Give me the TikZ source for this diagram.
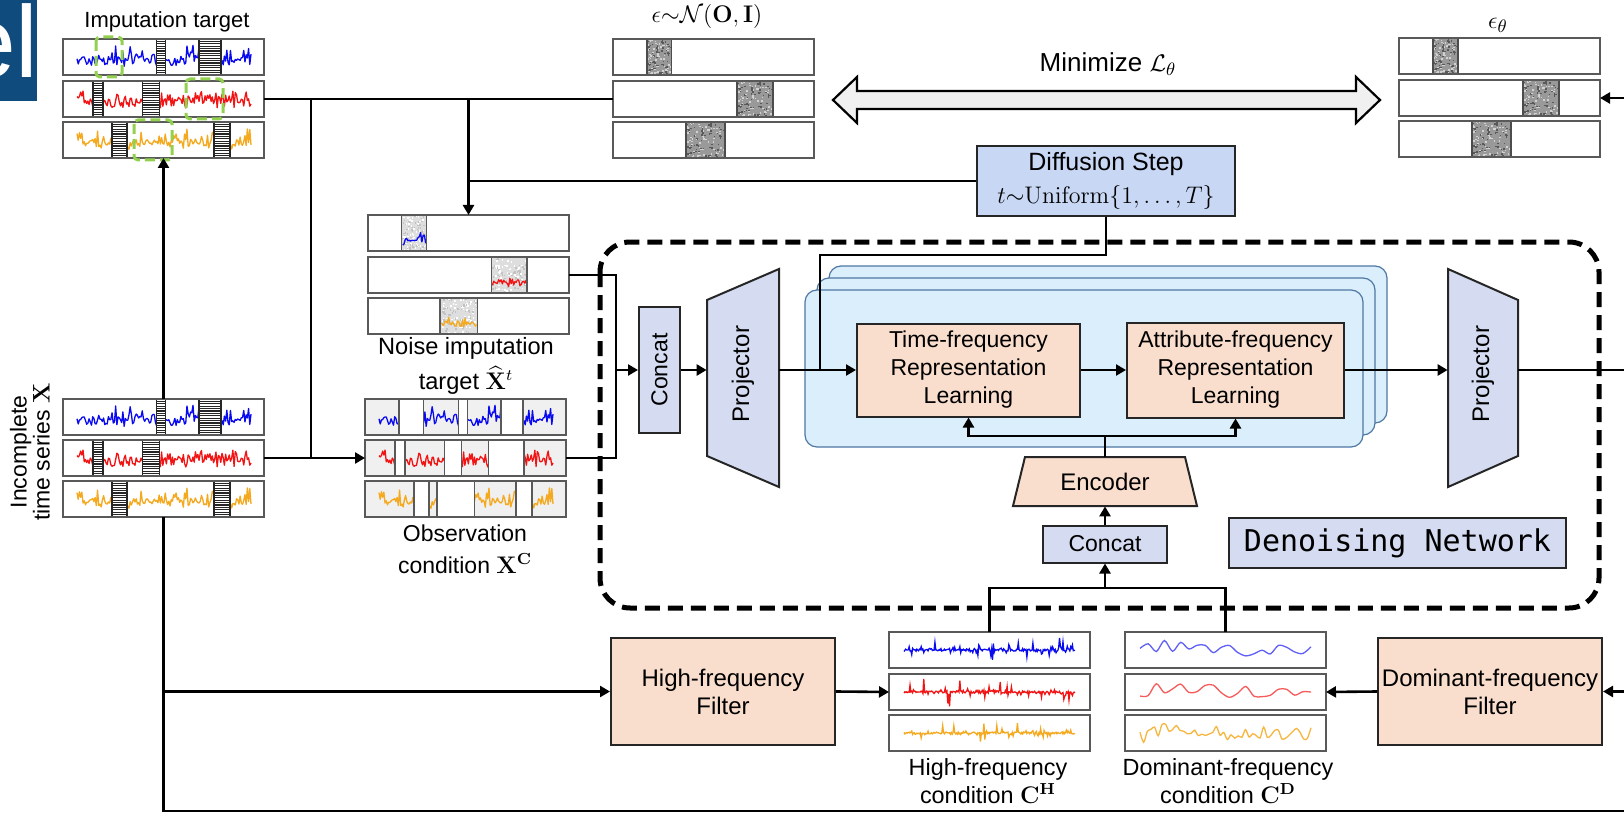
\documentclass[tikz,border=0pt]{standalone}
\usepackage{amsmath}
\usepackage{amssymb}
\usepackage{graphicx}
\usepackage[no-math]{fontspec}
\setmainfont{Liberation Sans}
\setmonofont{DejaVu Sans Mono}
\usepackage{tikz}
\usetikzlibrary{arrows.meta,calc,positioning}
\definecolor{FDNavy}{HTML}{104B7E}
\definecolor{FDLav}{HTML}{D5DCF1}
\definecolor{FDSky}{HTML}{C7D7F4}
\definecolor{FDPeach}{HTML}{F9DECD}
\definecolor{FDIce}{HTML}{DAEEFB}
\definecolor{FDIceEdge}{HTML}{4F77A3}
\definecolor{FDGreen}{HTML}{92D050}
\definecolor{FDBlue}{HTML}{0A0AF0}
\definecolor{FDRed}{HTML}{F21414}
\definecolor{FDOrange}{HTML}{F4A91E}
\definecolor{FDEdge}{HTML}{595959}
\newdimen\pxu
\pxu=0.5pt
% jagged trace from x=#1 to x=#2 standing on y=#3
\newcommand{\jagseries}[6]{%
  \pgfmathsetmacro{\jsa}{#1}\pgfmathsetmacro{\jsb}{#2}%
  \pgfmathsetmacro{\jsn}{int(max(8,((#2)-(#1))/1.2))}%
  \pgfmathsetseed{#6}%
  \draw[#5, line width=0.65pt, line join=round]
    plot[domain=\jsa:\jsb, samples=\jsn] (\x, {(#3)-(#4)*(0.2+0.35*rnd+0.45*pow(rnd,3))});
}
% speckled noise block
\newcommand{\granite}[8]{%
  \fill[#5] (#1,#2) rectangle (#3,#4);
  \pgfmathsetseed{#8}%
  \foreach \k in {1,...,60}{%
    \pgfmathsetmacro{\gx}{(#1)+((#3)-(#1)-1.6)*rnd}%
    \pgfmathsetmacro{\gy}{(#2)+((#4)-(#2)-1.6)*rnd}%
    \fill[#6] (\gx,\gy) rectangle ++(1.6,1.6);
    \pgfmathsetmacro{\gx}{(#1)+((#3)-(#1)-1.6)*rnd}%
    \pgfmathsetmacro{\gy}{(#2)+((#4)-(#2)-1.6)*rnd}%
    \fill[#7] (\gx,\gy) rectangle ++(1.6,1.6);
  }
}
% series strip with hatched missing blocks
\newcommand{\gapstrip}[6]{%
  \node[seriesbox] (#1) at (#2,#3) {};
  \jagseries{#2+14}{#2+188}{#3+33}{28}{#4}{#5}
  \foreach \ga/\gb in {#6}{%
    \fill[white] ({#2+\ga*201},#3) rectangle ({#2+\gb*201},#3+36);
    \foreach \hy in {2.4,4.8,...,34}
      \draw[black!85, line width=0.55pt] ({#2+\ga*201},#3+\hy) -- ({#2+\gb*201},#3+\hy);
    \draw[black!85, line width=0.8pt] ({#2+\ga*201},#3) rectangle ({#2+\gb*201},#3+36);
  }
  \draw[FDEdge, line width=0.8pt] (#1.north west) rectangle (#1.south east);
}
% observed pieces only, gaps left blank
\newcommand{\obsstrip}[6]{%
  \node[seriesbox, fill=black!6] (#1) at (#2,#3) {};
  \jagseries{#2+14}{#2+188}{#3+33}{28}{#4}{#5}
  \foreach \ga/\gb in {#6}
    \draw[FDEdge, line width=0.8pt, fill=white] ({#2+\ga*201},#3) rectangle ({#2+\gb*201},#3+36);
  \draw[FDEdge, line width=0.8pt] (#1.north west) rectangle (#1.south east);
}
\newcommand{\noisystrip}[7]{%
  \node[seriesbox] (#1) at (#2,#3) {};
  \granite{#2+#6*201}{#3}{#2+#7*201}{#3+36}{black!13}{black!24}{white}{#5}
  \jagseries{#2+#6*201+1}{#2+#7*201-1}{#3+34}{18}{#4}{#5}
  \draw[FDEdge, line width=0.7pt] ({#2+#6*201},#3) rectangle ({#2+#7*201},#3+36);
  \draw[FDEdge, line width=0.8pt] (#1.north west) rectangle (#1.south east);
}
\newcommand{\epsstrip}[5]{%
  \node[seriesbox] (#1) at (#2,#3) {};
  \granite{#2+#4*201}{#3}{#2+#5*201}{#3+36}{black!40}{black!65}{black!18}{7}
  \draw[black!70, line width=0.8pt] ({#2+#4*201},#3) rectangle ({#2+#5*201},#3+36);
  \draw[FDEdge, line width=0.8pt] (#1.north west) rectangle (#1.south east);
}
\newcommand{\hfstrip}[5]{%
  \node[seriesbox] (#1) at (#2,#3) {};
  \pgfmathsetmacro{\jsa}{#2+15}\pgfmathsetmacro{\jsb}{#2+186}%
  \pgfmathsetseed{#5}%
  \draw[#4, line width=0.65pt] plot[domain=\jsa:\jsb, samples=200]
    (\x, {(#3+18)+16*(2*rnd-1)*(0.06+0.94*pow(rnd,9))});
  \draw[FDEdge, line width=0.8pt] (#1.north west) rectangle (#1.south east);
}
\newcommand{\domstrip}[6]{%
  \node[seriesbox] (#1) at (#2,#3) {};
  \pgfmathsetmacro{\jsa}{#2+15}\pgfmathsetmacro{\jsb}{#2+186}%
  \pgfmathsetseed{#5}%
  \draw[#4, line width=0.65pt] plot[smooth, domain=\jsa:\jsb, samples=#6]
    (\x, {(#3+18)+(6+7*exp(-(\x-\jsa)/40))*(2*rnd-1)});
  \draw[FDEdge, line width=0.8pt] (#1.north west) rectangle (#1.south east);
}

\begin{document}
\begin{tikzpicture}[x=0.5pt, y=-0.5pt,
  conn/.style={draw=black, line width=1.3pt},
  arr/.style={conn, -{Triangle[length=5pt,width=5.5pt]}},
  seriesbox/.style={fill=white, inner sep=0pt, outer sep=0pt, anchor=north west,
    minimum width=201\pxu, minimum height=36\pxu},
  lavbox/.style={draw=black!85, line width=1pt, fill=FDLav, inner sep=0pt, align=center,
    font=\fontsize{11.5}{14}\selectfont},
  peachbox/.style={draw=black!85, line width=1pt, fill=FDPeach, inner sep=0pt, align=center,
    font=\fontsize{11.5}{14}\selectfont},
  ghost/.style={inner sep=0pt, align=center, font=\fontsize{12}{14}\selectfont},
  caption/.style={align=center, inner sep=0pt, font=\fontsize{11.5}{15}\selectfont},
  stacklayer/.style={draw=FDIceEdge, line width=0.6pt, fill=FDIce, rounded corners=6pt},
  tgtbox/.style={draw=FDGreen, line width=1.5pt, dash pattern=on 5pt off 2.5pt, rounded corners=2pt},
]
\useasboundingbox (0,0) rectangle (1624,813);
\clip (0,0) rectangle (1624,813);

% cropped title tab
\begin{scope}
  \clip (0,0) rectangle (37,101);
  \fill[FDNavy] (0,0) rectangle (37,101);
  \node[anchor=base east, text=white, inner sep=0pt, font=\fontsize{51}{51}\selectfont] (tab) at (39,78) {el};
\end{scope}

% series on the left
\node[caption, font=\fontsize{11}{13}\selectfont] (imp-cap) at (167,22) {Imputation target};
\gapstrip{imp-1}{63}{39}{FDBlue}{11}{0.465/0.51,0.678/0.787}
\gapstrip{imp-2}{63}{81}{FDRed}{23}{0.149/0.198,0.396/0.48}
\gapstrip{imp-3}{63}{122}{FDOrange}{37}{0.243/0.317,0.752/0.832}
\draw[tgtbox] (96,37) rectangle (122,77);
\draw[tgtbox] (186,79) rectangle (223,119);
\draw[tgtbox] (134,120) rectangle (172,160);

\gapstrip{inc-1}{63}{399}{FDBlue}{11}{0.465/0.51,0.678/0.787}
\gapstrip{inc-2}{63}{440}{FDRed}{23}{0.149/0.198,0.396/0.48}
\gapstrip{inc-3}{63}{481}{FDOrange}{37}{0.243/0.317,0.752/0.832}
\node[caption, rotate=90, font=\fontsize{11.5}{11.5}\selectfont] (inc-cap) at (30,452) {Incomplete\\time series $\mathbf{X}$};

\noisystrip{noisy-1}{368}{215}{FDBlue}{5}{0.168}{0.292}
\noisystrip{noisy-2}{368}{257}{FDRed}{6}{0.614}{0.792}
\noisystrip{noisy-3}{368}{298}{FDOrange}{8}{0.358}{0.545}
\node[caption, font=\fontsize{11.8}{17.5}\selectfont] (noisy-cap) at (466,366) {Noise imputation\\target $\widehat{\mathbf{X}}^{t}$};

\obsstrip{obs-1}{365}{399}{FDBlue}{11}{0.168/0.292,0.465/0.51,0.678/0.787}
\obsstrip{obs-2}{365}{440}{FDRed}{23}{0.149/0.198,0.396/0.48,0.614/0.792}
\obsstrip{obs-3}{365}{481}{FDOrange}{37}{0.243/0.317,0.358/0.545,0.752/0.832}
\node[caption, font=\fontsize{11.5}{16}\selectfont] (obs-cap) at (465,549) {Observation\\condition $\mathbf{X}^{\mathbf{C}}$};

% noise targets and prediction
\node[font=\fontsize{12}{13}\selectfont] (eps-cap) at (707,17) {$\epsilon{\sim}\mathcal{N}(\mathbf{O},\mathbf{I})$};
\epsstrip{eps-1}{613}{39}{0.168}{0.292}
\epsstrip{eps-2}{613}{81}{0.617}{0.796}
\epsstrip{eps-3}{613}{122}{0.363}{0.557}
\node[font=\fontsize{12.5}{13}\selectfont] (epsth-cap) at (1498,25) {$\epsilon_{\theta}$};
\epsstrip{epsth-1}{1399}{38}{0.168}{0.292}
\epsstrip{epsth-2}{1399}{80}{0.617}{0.796}
\epsstrip{epsth-3}{1399}{121}{0.363}{0.557}

\draw[line width=1.1pt, fill=black!6] (833,100) -- (857,77) -- (857,91) -- (1356,91) -- (1356,77)
  -- (1380,100) -- (1356,123) -- (1356,109) -- (857,109) -- (857,123) -- cycle;
\node[font=\fontsize{13}{15}\selectfont] (minimize) at (1108,64) {Minimize $\mathcal{L}_{\theta}$};

\node[draw=black!85, line width=1pt, fill=FDSky, minimum width=258\pxu, minimum height=70\pxu,
  align=center, inner sep=0pt, font=\fontsize{12.5}{16.5}\selectfont] (diff) at (1106,181)
  {Diffusion Step\\$t{\sim}\mathrm{Uniform}\{1,\ldots,T\}$};

% denoising network
\draw[line width=2.5pt, dash pattern=on 7.5pt off 4pt, rounded corners=15pt] (600,242) rectangle (1599,608);
\draw[stacklayer] (829,266) rectangle (1387,423);
\draw[stacklayer] (817,278) rectangle (1375,435);
\draw[stacklayer] (805,290) rectangle (1363,447);

\node[lavbox, minimum width=41\pxu, minimum height=126\pxu] (concatA) at (659.5,370) {\rotatebox{90}{Concat}};
\filldraw[fill=FDLav, draw=black!85, line width=1pt] (707,300) -- (779,269) -- (779,487) -- (707,456) -- cycle;
\node[ghost, minimum width=72\pxu, minimum height=218\pxu] (projA) at (743,374) {\rotatebox{90}{Projector}};
\filldraw[fill=FDLav, draw=black!85, line width=1pt] (1448,269) -- (1518,300) -- (1518,456) -- (1448,487) -- cycle;
\node[ghost, minimum width=70\pxu, minimum height=218\pxu] (projB) at (1483,374) {\rotatebox{90}{Projector}};

\node[peachbox, minimum width=223\pxu, minimum height=93\pxu] (tfrep) at (968.5,370) {Time-frequency\\Representation\\Learning};
\node[peachbox, minimum width=217\pxu, minimum height=95\pxu] (afrep) at (1235.5,370) {Attribute-frequency\\Representation\\Learning};

\filldraw[fill=FDPeach, draw=black!85, line width=1pt] (1025,457) -- (1185,457) -- (1197,506) -- (1013,506) -- cycle;
\node[ghost, minimum width=184\pxu, minimum height=49\pxu] (enc) at (1105,481.5) {Encoder};
\node[lavbox, minimum width=124\pxu, minimum height=37\pxu] (concatB) at (1105,544) {Concat};
\node[lavbox, minimum width=337\pxu, minimum height=50\pxu, font=\ttfamily\fontsize{15}{17}\selectfont] (dnet) at (1397.5,543) {Denoising Network};

% frequency conditions
\node[peachbox, minimum width=224\pxu, minimum height=107\pxu, font=\fontsize{12}{14}\selectfont] (hff) at (723,691.5) {High-frequency\\Filter};
\node[peachbox, minimum width=224\pxu, minimum height=107\pxu, font=\fontsize{12}{14}\selectfont] (dff) at (1490,691.5) {Dominant-frequency\\Filter};
\hfstrip{hf-1}{889}{632}{FDBlue}{41}
\hfstrip{hf-2}{889}{674}{FDRed}{43}
\hfstrip{hf-3}{889}{715}{FDOrange}{47}
\domstrip{dom-1}{1125}{632}{FDBlue!65}{51}{22}
\domstrip{dom-2}{1125}{674}{FDRed!70}{53}{22}
\domstrip{dom-3}{1125}{715}{FDOrange!85}{57}{48}
\node[caption, font=\fontsize{11.7}{14}\selectfont] (hf-cap) at (988,781) {High-frequency\\condition $\mathbf{C}^{\mathbf{H}}$};
\node[caption, font=\fontsize{11.7}{14}\selectfont] (dom-cap) at (1228,781) {Dominant-frequency\\condition $\mathbf{C}^{\mathbf{D}}$};

% connectors
\coordinate (jobs) at (311,99);
\coordinate (jcat) at (616,370);
\coordinate (jdiff) at (820,255);
\coordinate (jenc) at (1105,436);
\coordinate (jcond) at (1105,588);
\coordinate (rproj) at (1624,370);
\coordinate (reps) at (1624,98);
\coordinate (rdom) at (1624,691.5);
\coordinate (rbot) at (1624,811);

\draw[conn] (imp-2.east) -- (eps-2.west);
\draw[conn] (jobs) -- (jobs |- inc-2.east);
\draw[arr] (inc-2.east) -- (obs-2.west);
\draw[arr] (noisy-1.north |- imp-2.east) -- (noisy-1.north);
\draw[conn] (diff.west) -- (diff.west -| noisy-1.north);
\draw[conn] (noisy-2.east) -| (jcat);
\draw[conn] (obs-2.east) -| (jcat);
\draw[arr] (jcat) -- (concatA.west);
\draw[arr] (concatA.east) -- (concatA.east -| projA.west);
\draw[arr] (concatA.east -| projA.east) -- (tfrep.west);
\draw[conn] (diff.south) |- (jdiff) -- (jdiff |- tfrep.west);
\draw[arr] (tfrep.east) -- (afrep.west);
\draw[arr] (afrep.east) -- (afrep.east -| projB.west);
\draw[conn] (afrep.east -| projB.east) -- (rproj);
\draw[arr] (reps) -- (epsth-2.east);
\draw[conn] (enc.north) -- (jenc);
\draw[arr] (jenc) -| (tfrep.south);
\draw[arr] (jenc) -| (afrep.south);
\draw[arr] (concatB.north) -- (enc.south);
\draw[conn] (hf-1.north) |- (jcond) -| (dom-1.north);
\draw[arr] (jcond) -- (concatB.south);
\draw[arr] (inc-1.north) -- (imp-3.south);
\draw[conn] (inc-3.south) |- (rbot);
\draw[arr] (inc-3.south |- hff.west) -- (hff.west);
\draw[arr] (hff.east) -- (hf-2.west);
\draw[arr] (rdom) -- (dff.east);
\draw[arr] (dff.west) -- (dom-2.east);
\end{tikzpicture}
\end{document}
